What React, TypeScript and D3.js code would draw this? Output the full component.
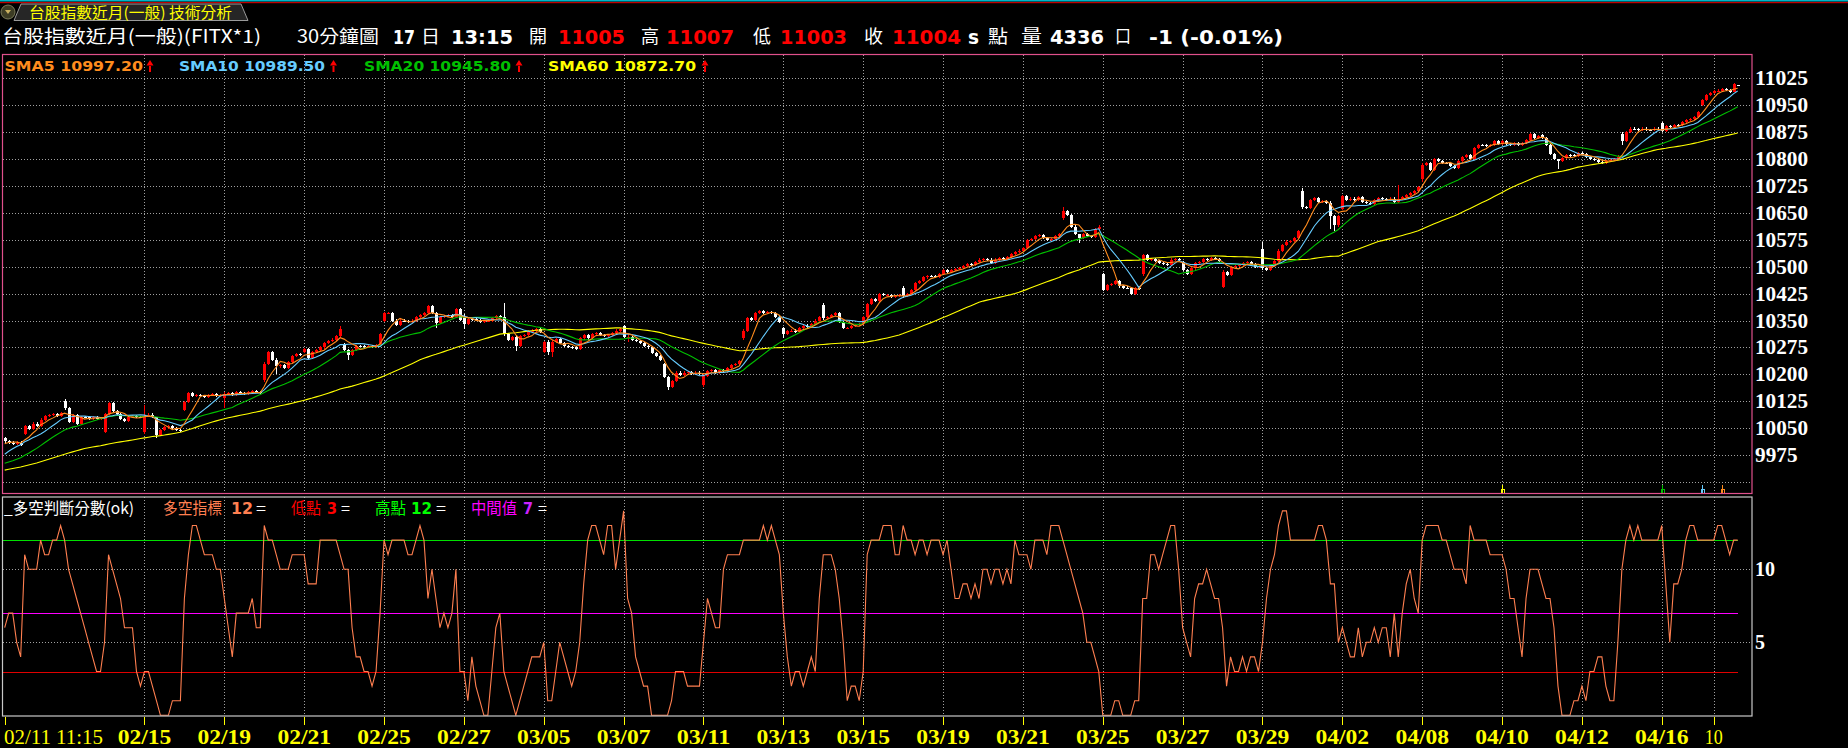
import React from "react";
import * as d3 from "d3";

// 59 bars before the first visible bar, only used to warm up the moving averages
const warmupCloses = [
  9872, 9878, 9885, 9880, 9876, 9882, 9890, 9886, 9879, 9875,
  9870, 9878, 9884, 9888, 9882, 9876, 9880, 9885, 9889, 9885,
  9950, 9962, 9970, 9965, 9958, 9970, 9975, 9968, 9962, 9970,
  9978, 9972, 9965, 9960, 9968, 9975, 9970, 9966, 9962, 9954,
  9940, 9932, 9925, 9918, 9922, 9928, 9930, 9924, 9920, 9926,
  9930, 9938, 9945, 9957, 9970, 9995, 10002, 10010, 10015,
];

// 30 minute closes, 02/11 11:15 .. 04/17 13:15
const closes = [
  10013, 10010, 10007, 10010, 10003, 10055, 10048, 10063, 10056, 10074,
  10083, 10087, 10090, 10085, 10091, 10106, 10068, 10086, 10062, 10081,
  10080, 10077, 10081, 10076, 10079, 10090, 10120, 10098, 10090, 10075,
  10070, 10080, 10085, 10082, 10080, 10083, 10088, 10082, 10030, 10044,
  10052, 10055, 10050, 10046, 10042, 10123, 10147, 10140, 10143, 10140,
  10138, 10142, 10145, 10140, 10143, 10145, 10148, 10143, 10150, 10148,
  10146, 10150, 10153, 10150, 10147, 10230, 10263, 10240, 10222, 10225,
  10218, 10235, 10250, 10257, 10255, 10270, 10245, 10262, 10268, 10275,
  10287, 10293, 10297, 10306, 10327, 10268, 10255, 10268, 10280, 10278,
  10276, 10278, 10276, 10282, 10313, 10370, 10372, 10350, 10337, 10350,
  10348, 10347, 10350, 10360, 10365, 10372, 10390, 10372, 10342, 10360,
  10362, 10365, 10360, 10383, 10352, 10340, 10355, 10353, 10352, 10345,
  10348, 10350, 10358, 10362, 10360, 10313, 10295, 10305, 10278, 10306,
  10310, 10320, 10322, 10326, 10318, 10290, 10262, 10290, 10298, 10288,
  10280, 10277, 10275, 10272, 10300, 10310, 10300, 10313, 10316, 10310,
  10308, 10310, 10315, 10322, 10325, 10303, 10305, 10295, 10292, 10288,
  10280, 10275, 10260, 10250, 10240, 10192, 10165, 10182, 10205, 10198,
  10205, 10206, 10202, 10205, 10200, 10196, 10210, 10212, 10205, 10212,
  10208, 10218, 10225, 10230, 10236, 10322, 10358, 10352, 10370, 10377,
  10372, 10374, 10372, 10360, 10345, 10312, 10320, 10322, 10318, 10328,
  10336, 10333, 10340, 10350, 10360, 10358, 10360, 10365, 10370, 10345,
  10328, 10330, 10335, 10337, 10340, 10360, 10395, 10410, 10405, 10425,
  10420, 10420, 10416, 10418, 10422, 10418, 10425, 10435, 10455, 10460,
  10470, 10475, 10474, 10472, 10480, 10490, 10485, 10490, 10493, 10497,
  10503, 10508, 10505, 10513, 10520, 10522, 10520, 10510, 10520, 10525,
  10522, 10528, 10535, 10540, 10545, 10553, 10575, 10578, 10585, 10587,
  10580, 10575, 10577, 10585, 10590, 10655, 10645, 10612, 10590, 10580,
  10590, 10585, 10583, 10605, 10612, 10435, 10448, 10452, 10460, 10445,
  10442, 10440, 10425, 10440, 10438, 10532, 10520, 10522, 10515, 10510,
  10508, 10505, 10520, 10522, 10518, 10490, 10480, 10495, 10510, 10513,
  10522, 10520, 10525, 10522, 10515, 10485, 10478, 10500, 10502, 10505,
  10510, 10512, 10508, 10500, 10502, 10495, 10490, 10505, 10515, 10545,
  10560, 10570, 10572, 10580, 10600, 10667, 10663, 10685, 10692, 10680,
  10682, 10678, 10640, 10615, 10640, 10698, 10685, 10690, 10685, 10693,
  10680, 10678, 10675, 10685, 10692, 10688, 10685, 10690, 10680, 10690,
  10695, 10700, 10705, 10712, 10723, 10783, 10790, 10770, 10800, 10795,
  10790, 10788, 10780, 10775, 10795, 10805, 10810, 10800, 10830, 10840,
  10838, 10836, 10840, 10850, 10842, 10849, 10842, 10839, 10844, 10840,
  10844, 10854, 10869, 10859, 10864, 10859, 10839, 10814, 10799, 10794,
  10804, 10812, 10810, 10809, 10816, 10815, 10805, 10800, 10797, 10793,
  10790, 10795, 10797, 10801, 10807, 10850, 10875, 10885, 10883, 10880,
  10885, 10881, 10880, 10885, 10882, 10878, 10892, 10889, 10896, 10895,
  10904, 10908, 10912, 10916, 10931, 10965, 10978, 10985, 10990, 10991,
  10994, 10992, 10987, 11009, 11004,
];

// bars whose open is not the previous close (session opens mostly)
const gapOpens: [number, number][] = [
  [0, 10023], [5, 10035], [15, 10127], [25, 10040], [35, 10040], [45, 10100],
  [55, 10135], [65, 10185], [75, 10262], [85, 10285], [95, 10350], [115, 10363],
  [125, 10360], [135, 10262], [155, 10335], [165, 10230], [175, 10170], [185, 10300],
  [195, 10330], [205, 10392], [225, 10440], [265, 10635], [275, 10480], [285, 10481],
  [295, 10512], [305, 10443], [315, 10550], [325, 10712], [335, 10660], [355, 10745],
  [385, 10868], [405, 10870], [415, 10900], [425, 10950], [434, 11005],
];

// [bar, high, low] for the longer shadows
const wicks: [number, number, number][] = [
  [15, 10130, 10100], [35, 10115, 10035], [38, 10070, 10022], [55, 10150, 10105],
  [65, 10235, 10178], [68, 10245, 10200], [84, 10335, 10300], [86, 10272, 10240],
  [108, 10375, 10330], [115, 10368, 10325], [125, 10400, 10308], [128, 10310, 10265],
  [136, 10296, 10255], [137, 10295, 10248], [156, 10312, 10290], [166, 10195, 10155],
  [175, 10200, 10165], [195, 10332, 10300], [205, 10400, 10352], [225, 10445, 10412],
  [265, 10665, 10630], [269, 10592, 10565], [285, 10535, 10475], [305, 10490, 10440],
  [315, 10570, 10490], [325, 10720, 10660], [332, 10682, 10605], [333, 10645, 10600],
  [349, 10727, 10678], [355, 10788, 10735], [389, 10800, 10773], [405, 10875, 10840],
  [433, 11012, 10990], [434, 11007, 11003],
];

// 多空判斷分數
const scores = [
  6, 7, 7, 5, 4, 11, 10, 10, 10, 12,
  11, 11, 12, 12, 13, 12, 10, 9, 8, 7,
  6, 5, 4, 3, 3, 5, 11, 10, 9, 8,
  6, 6, 6, 3, 2, 3, 3, 2, 1, 0,
  0, 0, 1, 1, 1, 8, 11, 13, 13, 12,
  11, 11, 11, 10, 10, 8, 6, 4, 7, 7,
  7, 7, 8, 6, 6, 13, 12, 12, 11, 10,
  10, 10, 11, 11, 11, 11, 9, 9, 9, 12,
  12, 12, 12, 12, 11, 10, 10, 6, 4, 4,
  3, 3, 2, 3, 7, 12, 11, 12, 12, 12,
  12, 11, 11, 12, 13, 12, 8, 10, 8, 6,
  7, 6, 7, 10, 3, 3, 1, 4, 2, 1,
  0, 0, 3, 6, 7, 3, 2, 1, 0, 1,
  2, 3, 4, 4, 4, 5, 1, 1, 3, 5,
  4, 3, 2, 3, 5, 9, 12, 13, 13, 12,
  11, 13, 13, 10, 12, 14, 8, 7, 4, 3,
  2, 2, 0, 0, 0, 0, 0, 1, 3, 3,
  3, 2, 2, 2, 2, 5, 8, 7, 6, 6,
  10, 11, 11, 11, 11, 12, 12, 12, 12, 12,
  13, 12, 13, 12, 11, 7, 4, 2, 3, 3,
  2, 3, 4, 3, 8, 11, 11, 11, 10, 8,
  5, 1, 2, 2, 1, 3, 11, 12, 12, 12,
  13, 13, 13, 11, 11, 13, 12, 12, 11, 12,
  12, 11, 12, 12, 12, 11, 12, 10, 8, 8,
  9, 9, 8, 9, 8, 10, 10, 9, 10, 10,
  9, 10, 9, 12, 11, 11, 11, 10, 12, 12,
  12, 11, 13, 13, 13, 12, 11, 10, 9, 8,
  7, 5, 5, 4, 3, 0, 0, 0, 1, 1,
  0, 0, 0, 1, 1, 8, 8, 11, 11, 10,
  11, 12, 13, 13, 10, 6, 5, 4, 8, 9,
  9, 10, 9, 8, 8, 6, 2, 4, 3, 3,
  4, 3, 4, 4, 3, 5, 8, 10, 11, 13,
  14, 14, 12, 12, 12, 12, 12, 12, 12, 13,
  13, 12, 9, 9, 5, 6, 5, 4, 4, 6,
  4, 5, 5, 6, 5, 6, 6, 4, 7, 4,
  7, 9, 10, 8, 7, 12, 13, 13, 13, 13,
  12, 12, 11, 10, 10, 10, 9, 13, 12, 12,
  12, 12, 11, 11, 11, 11, 10, 8, 8, 6,
  4, 8, 10, 10, 10, 9, 8, 8, 6, 2,
  0, 0, 0, 1, 1, 2, 1, 3, 3, 4,
  4, 2, 1, 1, 5, 10, 12, 13, 12, 13,
  12, 12, 12, 12, 12, 13, 9, 5, 9, 9,
  10, 12, 13, 13, 12, 12, 12, 12, 12, 13,
  13, 12, 11, 12, 12,
];

const tickIdx = [0, 35, 55, 75, 95, 115, 135, 155, 175, 195, 215, 235, 255, 275, 295, 315, 335, 355, 375, 395, 415, 428];
const tickLabels = [
  "02/11 11:15", "02/15", "02/19", "02/21", "02/25", "02/27", "03/05", "03/07", "03/11", "03/13", "03/15",
  "03/19", "03/21", "03/25", "03/27", "03/29", "04/02", "04/08", "04/10", "04/12", "04/16", "10",
];
const priceTicks = [9900, 9975, 10050, 10125, 10200, 10275, 10350, 10425, 10500, 10575, 10650, 10725, 10800, 10875, 10950, 11025];
const scoreGrid = [5, 10];
const scoreLevels = [12, 7, 3];
const scoreLevelColors = ["#00e000", "#ff00ff", "#e00000"];

const smaPeriods = [5, 10, 20, 60];
const smaColors = ["#ff8c1e", "#66ccff", "#00c000", "#ffff00"];
const smaLegend = ["SMA5 10997.20", "SMA10 10989.50", "SMA20 10945.80", "SMA60 10872.70"];

const signalIdx = [375, 415, 425, 430];
const signalColors = ["#ffff00", "#00c000", "#66ccff", "#ff8c1e"];

const W = 1848;
const H = 748;
const CJK = "'Noto Sans CJK TC', sans-serif";
const BOLD = "'DejaVu Sans', sans-serif";
const AXIS = "'Liberation Serif', serif";

const App: React.FC = () => {
  const x = d3.scaleLinear().domain([0, 434]).range([4.7, 4.7 + 434 * 3.993]);
  const y = d3.scaleLinear().domain([9900, 11025]).range([482, 78.3]);
  const ys = d3.scaleLinear().domain([0, 13]).range([715.3, 525.5]);

  const all = warmupCloses.concat(closes);
  const off = warmupCloses.length;
  const smas = smaPeriods.map((n) =>
    closes.map((_, i) => d3.mean(all.slice(i + off - n + 1, i + off + 1)) as number),
  );

  const openMap = new Map(gapOpens);
  const wickMap = new Map(wicks.map((w) => [w[0], w]));
  const candles = closes.map((c, i) => {
    const o = openMap.has(i) ? (openMap.get(i) as number) : i > 0 ? closes[i - 1] : c;
    const w = wickMap.get(i);
    const h = w ? w[1] : Math.max(o, c) + 3;
    const l = w ? w[2] : Math.min(o, c) - 3;
    return { i, o, c, h, l };
  });

  const line = d3
    .line<number>()
    .x((_, i) => x(i))
    .y((d) => y(d));
  const scoreLine = d3
    .line<number>()
    .x((_, i) => x(i))
    .y((d) => ys(d));

  const up = { left: 2.5, right: 1752, top: 54.5, bottom: 493.5 };
  const lo = { left: 2.5, right: 1752, top: 497, bottom: 716 };

  const header: [string, number, number, string, boolean][] = [
    ["台股指數近月(一般)(FITX*1)", 2, 259, "#fff", false],
    ["30分鐘圖", 297, 82, "#fff", false],
    ["17", 393, 22, "#fff", true],
    ["日", 421, 19, "#fff", false],
    ["13:15", 451, 62, "#fff", true],
    ["開", 529, 18, "#fff", false],
    ["11005", 558, 67, "#ff0000", true],
    ["高", 641, 18, "#fff", false],
    ["11007", 666, 68, "#ff0000", true],
    ["低", 753, 18, "#fff", false],
    ["11003", 780, 67, "#ff0000", true],
    ["收", 864, 19, "#fff", false],
    ["11004", 892, 69, "#ff0000", true],
    ["s", 968, 11, "#fff", true],
    ["點", 988, 20, "#fff", false],
    ["量", 1021, 21, "#fff", false],
    ["4336", 1050, 54, "#fff", true],
    ["口", 1115, 16, "#fff", false],
    ["-1 (-0.01%)", 1149, 134, "#fff", true],
  ];

  const smaLegendX = [4.5, 179, 364, 548];
  const smaLegendW = [138.5, 146, 147, 148];
  const arrowX = [150, 333.5, 519, 705];

  const scoreLegend: [string, number, number, string, boolean][] = [
    ["_多空判斷分數(ok)", 4, 130, "#fff", false],
    ["多空指標", 163, 59, "#ff7f50", false],
    ["12", 231, 22, "#ff7f50", true],
    ["=", 256, 10, "#fff", false],
    ["低點", 291, 30, "#ff0000", false],
    ["3", 327, 10, "#ff0000", true],
    ["=", 341, 9, "#fff", false],
    ["高點", 375, 31, "#00ff00", false],
    ["12", 411, 21, "#00ff00", true],
    ["=", 436, 10, "#fff", false],
    ["中間值", 471, 46, "#ff00ff", false],
    ["7", 523, 10, "#cc22ff", true],
    ["=", 538, 9, "#fff", false],
  ];

  return (
    <svg
      width={W}
      height={H}
      style={{ position: "absolute", left: 0, top: 0, display: "block" }}
    >
      <defs>
        <clipPath id="upClip">
          <rect x={up.left} y={up.top} width={up.right - up.left} height={up.bottom - up.top} />
        </clipPath>
        <clipPath id="loClip">
          <rect x={lo.left} y={lo.top} width={lo.right - lo.left} height={lo.bottom - lo.top} />
        </clipPath>
      </defs>
      <rect width={W} height={H} fill="#000" />

      {/* window strip and tab */}
      <rect x={0} y={0} width={W} height={1.5} fill="#00b4c8" />
      <rect x={0} y={2} width={W} height={1.2} fill="#c00000" />
      <path d="M14,20.5 L21,4 H241 L248,20.5 Z" fill="#262626" stroke="#9a9a9a" strokeWidth={1} />
      <circle cx={8} cy={12} r={7} fill="#3c3c24" stroke="#7a7a5a" />
      <path d="M5,10 H11 L8,14 Z" fill="#c8b060" />
      <text x={29} y={17.5} fontFamily={CJK} fontSize={15} fill="#ffff00" textLength={203} lengthAdjust="spacingAndGlyphs">
        台股指數近月(一般) 技術分析
      </text>

      {/* header row */}
      {header.map(([t, hx, hw, col, bold], k) => (
        <text
          key={k}
          x={hx}
          y={bold ? 43.5 : 42.5}
          fontFamily={bold ? BOLD : CJK}
          fontWeight={bold ? "bold" : "normal"}
          fontSize={bold ? 19 : 18}
          fill={col}
          textLength={hw}
          lengthAdjust="spacingAndGlyphs"
        >
          {t}
        </text>
      ))}

      {/* upper panel grid */}
      <g stroke="#a0a0a0" strokeWidth={1} strokeDasharray="1 2" shapeRendering="crispEdges">
        {priceTicks.map((p) => (
          <line key={p} x1={up.left} x2={up.right} y1={Math.round(y(p)) + 0.5} y2={Math.round(y(p)) + 0.5} />
        ))}
        {tickIdx.slice(1).map((t) => (
          <line key={t} x1={Math.round(x(t)) + 0.5} x2={Math.round(x(t)) + 0.5} y1={up.top} y2={up.bottom} />
        ))}
      </g>

      {/* candles */}
      <g clipPath="url(#upClip)" shapeRendering="crispEdges">
        {candles.map((d) => {
          const col = d.c >= d.o ? "#ff0000" : "#ffffff";
          const cx = Math.round(x(d.i)) + 0.5;
          const top = y(Math.max(d.o, d.c));
          const bot = y(Math.min(d.o, d.c));
          return (
            <g key={d.i}>
              <line x1={cx} x2={cx} y1={y(d.h)} y2={y(d.l)} stroke={col} />
              <rect x={cx - 1.5} y={top} width={3} height={Math.max(1, bot - top)} fill={col} />
            </g>
          );
        })}
      </g>

      {/* moving averages */}
      <g clipPath="url(#upClip)" fill="none" strokeWidth={1.1}>
        {smas
          .slice()
          .reverse()
          .map((s, k) => (
            <path key={k} d={line(s) as string} stroke={smaColors[smaColors.length - 1 - k]} />
          ))}
      </g>

      {/* signal markers */}
      {signalIdx.map((s, k) => {
        const sx = Math.round(x(s)) + 0.5;
        return (
          <path
            key={s}
            d={`M${sx},484.5V492.5M${sx - 1.5},492.5V489.5H${sx + 1.5}V492.5`}
            stroke={signalColors[k]}
            fill="none"
            shapeRendering="crispEdges"
          />
        );
      })}

      <rect
        x={up.left}
        y={up.top}
        width={up.right - up.left}
        height={up.bottom - up.top}
        fill="none"
        stroke="#e0508c"
        strokeWidth={1.2}
      />

      {/* SMA legend */}
      {smaLegend.map((t, k) => (
        <g key={t}>
          <text
            x={smaLegendX[k]}
            y={70.5}
            fontFamily={BOLD}
            fontWeight="bold"
            fontSize={14.5}
            fill={smaColors[k]}
            textLength={smaLegendW[k]}
            lengthAdjust="spacingAndGlyphs"
          >
            {t}
          </text>
          <path
            d={`M${arrowX[k]},60 L${arrowX[k] - 3.5},65.5 H${arrowX[k] + 3.5} Z M${arrowX[k] - 1},65 H${arrowX[k] + 1} V72 H${arrowX[k] - 1} Z`}
            fill="#ff0000"
          />
        </g>
      ))}

      {/* price axis */}
      {priceTicks.slice(1).map((p) => (
        <text
          key={p}
          x={1755}
          y={y(p)}
          dominantBaseline="central"
          fontFamily={AXIS}
          fontWeight="bold"
          fontSize={20}
          fill="#fff"
          textLength={p >= 10000 ? 53 : 42.5}
          lengthAdjust="spacingAndGlyphs"
        >
          {p}
        </text>
      ))}

      {/* lower panel */}
      <g stroke="#a0a0a0" strokeWidth={1} strokeDasharray="1 2" shapeRendering="crispEdges">
        {scoreGrid.map((v) => (
          <line key={v} x1={lo.left} x2={lo.right} y1={Math.round(ys(v)) + 0.5} y2={Math.round(ys(v)) + 0.5} />
        ))}
        {tickIdx.slice(1).map((t) => (
          <line key={t} x1={Math.round(x(t)) + 0.5} x2={Math.round(x(t)) + 0.5} y1={lo.top} y2={lo.bottom} />
        ))}
      </g>
      <g shapeRendering="crispEdges">
        {scoreLevels.map((v, k) => (
          <line
            key={v}
            x1={lo.left}
            x2={x(434)}
            y1={Math.round(ys(v)) + 0.5}
            y2={Math.round(ys(v)) + 0.5}
            stroke={scoreLevelColors[k]}
            strokeWidth={1.2}
          />
        ))}
      </g>
      <path
        d={scoreLine(scores) as string}
        clipPath="url(#loClip)"
        fill="none"
        stroke="#ff7f50"
        strokeWidth={1.1}
      />
      <rect
        x={lo.left}
        y={lo.top}
        width={lo.right - lo.left}
        height={lo.bottom - lo.top}
        fill="none"
        stroke="#c8c8c8"
        strokeWidth={1.2}
      />
      {scoreLegend.map(([t, lx, lw, col, bold], k) => (
        <text
          key={k}
          x={lx}
          y={514}
          fontFamily={bold ? BOLD : CJK}
          fontWeight={bold ? "bold" : "normal"}
          fontSize={16}
          fill={col}
          textLength={lw}
          lengthAdjust="spacingAndGlyphs"
        >
          {t}
        </text>
      ))}
      {scoreGrid.map((v) => (
        <text
          key={v}
          x={1755}
          y={ys(v)}
          dominantBaseline="central"
          fontFamily={AXIS}
          fontWeight="bold"
          fontSize={20}
          fill="#fff"
        >
          {v}
        </text>
      ))}

      {/* x axis */}
      <g stroke="#ffff00" shapeRendering="crispEdges">
        {tickIdx.map((t) => (
          <line key={t} x1={Math.round(x(t)) + 0.5} x2={Math.round(x(t)) + 0.5} y1={717} y2={725} />
        ))}
      </g>
      {tickIdx.map((t, k) => {
        const first = k === 0;
        const last = k === tickIdx.length - 1;
        const len = first ? 99 : last ? 18 : 53.6;
        return (
          <text
            key={t}
            x={first ? 4 : x(t)}
            y={737}
            textAnchor={first ? "start" : "middle"}
            dominantBaseline="central"
            fontFamily={AXIS}
            fontWeight={first || last ? "normal" : "bold"}
            fontSize={20}
            fill="#ffff00"
            textLength={len}
            lengthAdjust="spacingAndGlyphs"
          >
            {tickLabels[k]}
          </text>
        );
      })}
    </svg>
  );
};

export default App;
